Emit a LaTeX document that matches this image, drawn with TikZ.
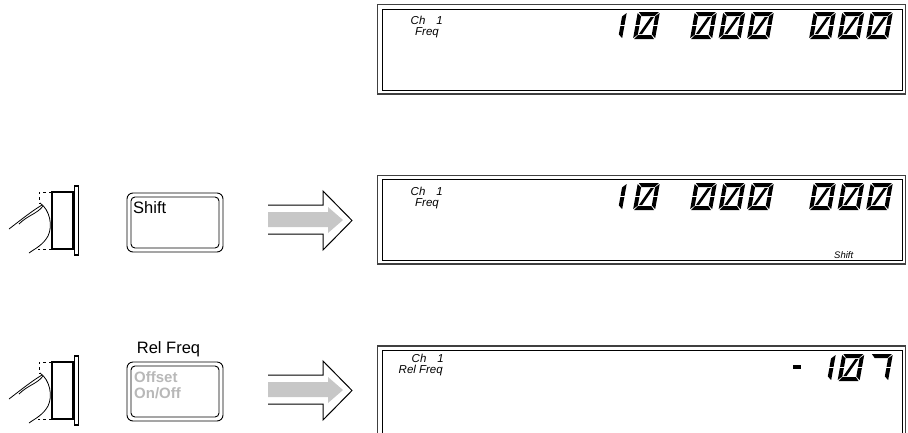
\documentclass[tikz,border=0pt]{standalone}
\usepackage{fontspec}
\setmainfont{Liberation Sans}
\usetikzlibrary{positioning}

\begin{document}
\begin{tikzpicture}[x=1pt, y=-1pt,
    lcdouter/.style={draw=black!75, line width=1.3pt},
    lcdinner/.style={draw=black, line width=0.9pt},
    lcdlabel/.style={font=\itshape\fontsize{11.5}{11}\selectfont, inner sep=0pt},
    keycap/.style={draw, line width=0.9pt},
    keylabel/.style={font=\fontsize{16.5}{16}\selectfont, inner sep=0pt},
    keygrey/.style={font=\bfseries\fontsize{15}{15}\selectfont, text=black!28, inner sep=0pt},
    hollowarrow/.style={draw, line width=1pt},
    % 14-segment LCD characters, slanted like the real display
    lcd zero/.pic={
      \begin{scope}[x=1pt, y=1pt, xslant=0.18]
      \fill (1,27)--(21,27)--(17.5,23)--(4.5,23)--cycle
            (1,0)--(21,0)--(17.5,4)--(4.5,4)--cycle
            (0,26)--(4,22.5)--(4,14.2)--(0,14)--cycle
            (0,13)--(4,12.8)--(4,4.5)--(0,1)--cycle
            (22,26)--(18,22.5)--(18,14.2)--(22,14)--cycle
            (22,13)--(18,12.8)--(18,4.5)--(22,1)--cycle
            (5,5)--(8.2,5)--(17,22)--(13.8,22)--cycle;
      \end{scope}},
    lcd one/.pic={
      \begin{scope}[x=1pt, y=1pt, xslant=0.18]
      \fill (22,26)--(18,22.5)--(18,14.2)--(22,14)--cycle
            (22,13)--(18,12.8)--(18,4.5)--(22,1)--cycle;
      \end{scope}},
    lcd seven/.pic={
      \begin{scope}[x=1pt, y=1pt, xslant=0.18]
      \fill (1,27)--(21,27)--(17.5,23)--(4.5,23)--cycle
            (22,26)--(18,22.5)--(18,14.2)--(22,14)--cycle
            (22,13)--(18,12.8)--(18,4.5)--(22,1)--cycle;
      \end{scope}}]

    \useasboundingbox (0,0) rectangle (908,432);
    \clip (0,0) rectangle (908,432);

    % Display before any key
    \draw[lcdouter] (377.5,4.5) rectangle (905.5,94);
    \draw[lcdinner] (382,9) rectangle (902.5,90.5);
    \node[lcdlabel, anchor=base east] (chA) at (443,24) {Ch\hspace{11pt}1};
    \node[lcdlabel, anchor=base east] (freqA) at (439,35.5) {Freq};
    \pic at (600,39) {lcd one};
    \foreach \cx in {633,690,718.5,747,809,837.5,866}
      \pic at (\cx,39) {lcd zero};

    % Step 1: Shift
    \draw[line width=1.8pt] (52,192) rectangle (73,249); % key body
    \draw[line width=1.4pt] (74.5,186) rectangle (78.5,255); % front panel
    \draw[dashed, line width=0.7pt] (52,192) -- (39,192) -- (39,204);
    \draw[dashed, line width=0.7pt] (52,249) -- (38,249);
    \draw[line width=0.8pt] (9,229) .. controls (22,219) and (32,211) .. (42,205);
    \draw[line width=0.8pt] (19,224) .. controls (28,215) and (37,214) .. (43,206);
    \draw[line width=0.8pt] (40,203) .. controls (50,210) and (53,226) .. (48,236) .. controls (43,245) and (36,248) .. (29,253);

    \draw[keycap, rounded corners=6pt] (127,193) rectangle (223,252);
    \draw[keycap, rounded corners=4pt] (131,197) rectangle (219,248);
    \node[keylabel, anchor=base west] (shiftkey) at (133,213) {Shift};

    \fill[black!22] (268,212) -- (328,212) -- (328,207) -- (343,220) -- (328,233) -- (328,227) -- (268,227) -- cycle;
    \draw[hollowarrow] (268,205) -- (323,205) -- (323,191) -- (352,220.5) -- (323,250) -- (323,234) -- (268,234);

    \draw[lcdouter] (377.5,175.5) rectangle (905.5,264);
    \draw[lcdinner] (382,179.5) rectangle (902.5,260.5);
    \node[lcdlabel, anchor=base east] (chB) at (443,195) {Ch\hspace{11pt}1};
    \node[lcdlabel, anchor=base east] (freqB) at (439,206.5) {Freq};
    \node[lcdlabel, font=\itshape\fontsize{9.5}{9.5}\selectfont, anchor=base west] (shiftflag) at (834,258) {Shift};
    \pic at (600,210) {lcd one};
    \foreach \cx in {633,690,718.5,747,809,837.5,866}
      \pic at (\cx,210) {lcd zero};

    % Step 2: Rel Freq (shifted Offset On/Off)
    \draw[line width=1.8pt] (52,362) rectangle (73,419);
    \draw[line width=1.4pt] (74.5,356) rectangle (78.5,425);
    \draw[dashed, line width=0.7pt] (52,362) -- (39,362) -- (39,374);
    \draw[dashed, line width=0.7pt] (52,419) -- (38,419);
    \draw[line width=0.8pt] (9,399) .. controls (22,389) and (32,381) .. (42,375);
    \draw[line width=0.8pt] (19,394) .. controls (28,385) and (37,384) .. (43,376);
    \draw[line width=0.8pt] (40,373) .. controls (50,380) and (53,396) .. (48,406) .. controls (43,415) and (36,418) .. (29,423);

    \node[keylabel, anchor=base] (relfreq) at (168.5,353) {Rel Freq};
    \draw[keycap, rounded corners=6pt] (127,362) rectangle (223,421);
    \draw[keycap, rounded corners=4pt] (131,366) rectangle (219,417);
    \node[keygrey, anchor=base west] (offset) at (134,382) {Offset};
    \node[keygrey, anchor=base west] (onoff) at (134,398) {On/Off};

    \fill[black!22] (268,382) -- (328,382) -- (328,377) -- (343,390) -- (328,403) -- (328,397) -- (268,397) -- cycle;
    \draw[hollowarrow] (268,375) -- (323,375) -- (323,361) -- (352,390.5) -- (323,420) -- (323,404) -- (268,404);

    \draw[lcdouter] (377.5,346) rectangle (905.5,440);
    \draw[lcdinner] (382,350) rectangle (902.5,436);
    \node[lcdlabel, anchor=base east] (chC) at (444,362) {Ch\hspace{11pt}1};
    \node[lcdlabel, anchor=base east] (relC) at (443,373.5) {Rel Freq};
    \fill (792.5,365) rectangle (801,369); % minus sign
    \pic at (809,381) {lcd one};
    \pic at (837.5,381) {lcd zero};
    \pic at (866,381) {lcd seven};
\end{tikzpicture}
\end{document}
